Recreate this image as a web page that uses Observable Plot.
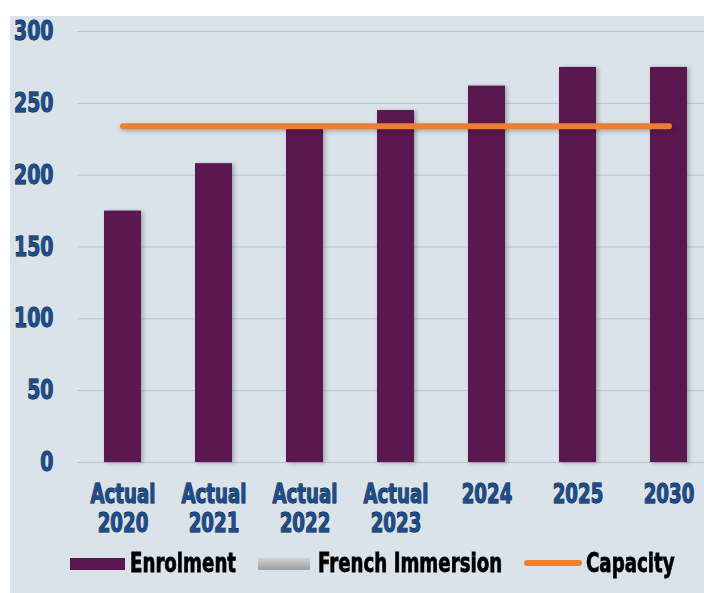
<!DOCTYPE html>
<html>
<head>
<meta charset="utf-8">
<script src="https://cdn.jsdelivr.net/npm/d3@7"></script>
<script src="https://cdn.jsdelivr.net/npm/@observablehq/plot@0.6"></script>
<style>
  body { margin: 0; background: #fff; }
  #wrap { position: relative; width: 704px; height: 593px; background: #fff; overflow: hidden; }
  #panel { position: absolute; left: 10px; top: 16px; right: 0; bottom: 0; background: #dae2ea; }
  #chart { position: absolute; left: 0; top: 0; }
  .heavy, .lg-text {
    font-family: "DejaVu Sans", "Liberation Sans", sans-serif;
    font-weight: bold;
  }
  .ax text { paint-order: stroke; stroke: currentColor; stroke-width: 1px; }
  .bars rect { filter: drop-shadow(2px 1px 2px rgba(0,0,0,0.28)); }
  .cap path { filter: drop-shadow(1px 2px 2px rgba(0,0,0,0.25)); }
  #legend { position: absolute; left: 0; top: 540px; width: 704px; height: 53px; }
  .lg-text { position: absolute; top: 8px; font-size: 26px; color: #000; line-height: 30px;
    -webkit-text-stroke: 0.8px #000; transform: scaleX(0.7); transform-origin: 0 50%; white-space: nowrap; }
  .sw { position: absolute; }
</style>
</head>
<body>
<div id="wrap">
  <div id="panel"></div>
  <div id="chart"></div>
  <div id="legend"></div>
</div>
<script>
const categories = ["Actual\n2020", "Actual\n2021", "Actual\n2022", "Actual\n2023", "2024", "2025", "2030"];
const enrolment = [175, 208, 232, 245, 262, 275, 275];
const capacity = [234, 234, 234, 234, 234, 234, 234];
const yTicks = [0, 50, 100, 150, 200, 250, 300];
const legendItems = ["Enrolment", "French Immersion", "Capacity"];

const rows = categories.map((c, i) => ({cat: c, enrolment: enrolment[i], capacity: capacity[i]}));

const blue = "#1c4d8f";
const chart = Plot.plot({
  width: 704,
  height: 540,
  marginTop: 31,
  marginBottom: 78,
  marginLeft: 77,
  marginRight: 0,
  style: {background: "transparent", overflow: "visible"},
  x: {domain: categories, range: [94, 698], paddingInner: 0.59, paddingOuter: 0.1, label: null},
  y: {domain: [0, 300], label: null},
  marks: [
    Plot.gridY(yTicks, {stroke: "#b8c3ce", strokeOpacity: 1, strokeWidth: 1}),
    Plot.barY(rows, {x: "cat", y: "enrolment", fill: "#5b1850", className: "bars"}),
    Plot.line(rows, {x: "cat", y: "capacity", stroke: "#ee7f32", strokeWidth: 6, strokeLinecap: "round", className: "cap"}),
    Plot.axisY(yTicks, {tickSize: 0, tickPadding: 24, fontSize: 27, color: blue, className: "ax heavy", fontWeight: "bold", label: null}),
    Plot.axisX({tickSize: 0, tickPadding: 20, fontSize: 26, lineHeight: 1.12, color: blue, className: "ax heavy", fontWeight: "bold", label: null})
  ]
});
document.getElementById("chart").appendChild(chart);

// condense axis text horizontally (mimic a condensed heavy face)
d3.select(chart).selectAll("g.ax text").each(function() {
  const tr = this.getAttribute("transform") || "";
  this.setAttribute("transform", `${tr} scale(0.7,1)`);
});

// Legend (HTML, below the SVG)
const lg = document.getElementById("legend");
function add(html) { lg.insertAdjacentHTML("beforeend", html); }
add(`<div class="sw" style="left:70px;top:18px;width:55px;height:12px;background:#5b1850"></div>`);
add(`<div class="lg-text" style="left:130px">${legendItems[0]}</div>`);
add(`<div class="sw" style="left:258px;top:18px;width:52px;height:12px;background:linear-gradient(#d2d2d2,#9e9e9e)"></div>`);
add(`<div class="lg-text" style="left:318px">${legendItems[1]}</div>`);
add(`<div class="sw" style="left:524px;top:20px;width:58px;height:6px;border-radius:3px;background:#ee7f32"></div>`);
add(`<div class="lg-text" style="left:586px">${legendItems[2]}</div>`);
</script>
</body>
</html>
